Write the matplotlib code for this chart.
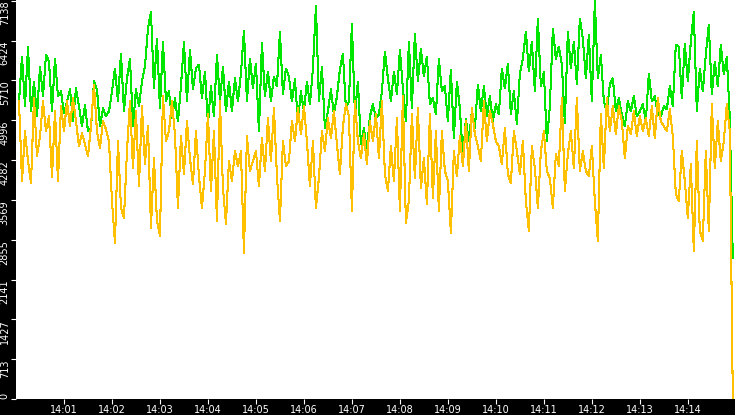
import numpy as np
import matplotlib
matplotlib.use("Agg")
import matplotlib.pyplot as plt

# seconds after 14:00:00, one sample every 3.75 s
sample_step = 3.75

upper = [
    5335, 6138, 5246, 6317, 5156, 5692, 5067, 5960, 5424, 6174,
    6049, 5156, 6103, 5424, 5514, 5121, 5335, 5549, 4978, 5567,
    5246, 4889, 5264, 4799, 4853, 5692, 5549, 4889, 5210, 5067,
    5156, 5514, 5924, 5335, 6192, 5156, 5746, 6103, 4889, 5549,
    5246, 5692, 5960, 6638, 6942, 5567, 6460, 5210, 6406, 5335,
    5514, 5032, 5389, 4978, 5603, 6406, 5335, 6263, 5549, 5924,
    5996, 5389, 5871, 4924, 5603, 5067, 6174, 5335, 5960, 5156,
    5692, 5156, 5746, 5335, 5835, 6602, 5335, 6103, 5567, 6013,
    4799, 6388, 5424, 5871, 5335, 5781, 5603, 6585, 5460, 5924,
    5781, 5335, 5728, 4978, 5514, 5156, 5692, 5281, 5924, 7049,
    5335, 5960, 4853, 5156, 5549, 5103, 5424, 5906, 6192, 5210,
    5335, 6727, 5103, 5692, 4567, 4853, 4443, 5067, 5281, 5032,
    5103, 5514, 6228, 5746, 5335, 5871, 5460, 6263, 5567, 4978,
    6406, 5210, 6549, 5692, 6281, 5781, 6138, 5281, 5389, 5103,
    6103, 5514, 5603, 4978, 5906, 4674, 5692, 5210, 4318, 5014,
    4621, 5156, 4853, 5638, 5156, 5603, 5067, 5424, 4978, 5281,
    5103, 5924, 5567, 6013, 5103, 5514, 4924, 5835, 6103, 6585,
    5871, 6406, 5514, 6817, 5603, 5871, 4621, 5246, 6638, 6103,
    6317, 5996, 4942, 6585, 5924, 6406, 5638, 6817, 6460, 5746,
    6531, 5335, 7138, 5746, 6174, 5335, 5156, 5638, 5746, 5156,
    5389, 5103, 4889, 5335, 5156, 5424, 5067, 5156, 5281, 4978,
    5835, 5335, 5424, 5103, 5067, 5246, 5192, 5603, 5246, 6352,
    6317, 5389, 6370, 5692, 6406, 6942, 5156, 5924, 5514, 6174,
    6709, 5460, 6049, 5603, 6352, 5817, 6138, 5032, 2532,
]

lower = [
    5335, 3907, 4799, 4264, 3871, 5389, 4353, 4710, 5335, 4799,
    5067, 3978, 5156, 3907, 5246, 4799, 5335, 4889, 5389, 4978,
    4532, 4764, 4567, 4353, 4889, 5638, 4799, 4496, 4978, 4835,
    4621, 3550, 2800, 4621, 3425, 3247, 4443, 5335, 4139, 5156,
    3818, 5246, 4210, 4889, 3068, 4318, 3193, 2925, 5424, 4621,
    4799, 5335, 4746, 3425, 4710, 4032, 4978, 4318, 3853, 4799,
    3996, 3425, 4086, 5103, 3729, 4799, 3193, 5335, 3782, 3139,
    4264, 3907, 4443, 4175, 4443, 2622, 4710, 4086, 4264, 4443,
    3818, 4674, 4086, 5032, 4264, 5210, 3996, 3193, 4621, 4175,
    4264, 4978, 4621, 5210, 4746, 5246, 4621, 3818, 4621, 3425,
    3961, 4799, 4443, 5032, 4674, 5156, 4567, 4032, 4889, 5281,
    5067, 3372, 5335, 4621, 4318, 4746, 4210, 4978, 4621, 5103,
    4318, 5335, 4032, 3729, 4532, 3907, 5032, 3372, 5424, 3157,
    3550, 5103, 3961, 5210, 3782, 4318, 3496, 5103, 3604, 4799,
    3372, 4799, 4086, 3907, 2979, 4443, 3996, 4710, 4175, 4978,
    4086, 5210, 4746, 4532, 4264, 5335, 4621, 5156, 4924, 4621,
    4532, 4210, 4853, 4032, 3871, 4799, 4443, 4032, 4621, 3550,
    3014, 4532, 4139, 3425, 4443, 4799, 4086, 3961, 3425, 4389,
    4175, 5389, 3729, 4389, 4799, 4139, 5389, 4086, 4443, 4086,
    3996, 4532, 3550, 2836, 5103, 4139, 5389, 4799, 5246, 4746,
    5246, 4978, 4318, 4889, 4746, 5156, 4710, 5067, 4799, 5032,
    4710, 5246, 4674, 5389, 4978, 4889, 4799, 5192, 4710, 3675,
    3550, 4443, 3907, 3247, 4210, 2657, 4621, 3015, 2836, 4443,
    3015, 5281, 4139, 4978, 4264, 4621, 5281, 4799, 0,
]

y_max = 7138
x_labels = ["14:01", "14:02", "14:03", "14:04", "14:05", "14:06", "14:07",
            "14:08", "14:09", "14:10", "14:11", "14:12", "14:13", "14:14"]

t = sample_step * (np.arange(len(upper)) + 1)

fig = plt.figure(figsize=(7.35, 4.15), dpi=100, facecolor="black")
ax = fig.add_axes([16 / 735, 16 / 415, 719 / 735, 399 / 415])
ax.set_facecolor("white")

ax.plot(t, upper, color="#00e600", lw=0.75, antialiased=False)
ax.plot(t, lower, color="#ffc000", lw=0.75, antialiased=False)

ax.set_xlim(0, 899)
ax.set_ylim(0, y_max * 1.002)

yt = np.linspace(0, y_max, 11)
ax.set_yticks(yt)
ax.set_yticklabels([str(int(v)) for v in yt], rotation=90, va="top")
ax.set_xticks(60 * np.arange(1, len(x_labels) + 1))
ax.set_xticklabels(x_labels)

ax.tick_params(colors="white", labelcolor="white", labelsize=7,
               length=3.5, width=0.8, pad=1)
for lab in ax.get_yticklabels():
    if lab.get_text() == "0":
        lab.set_va("bottom")
for s in ax.spines.values():
    s.set_visible(False)

fig.savefig("out.png", dpi=100, facecolor="black")
